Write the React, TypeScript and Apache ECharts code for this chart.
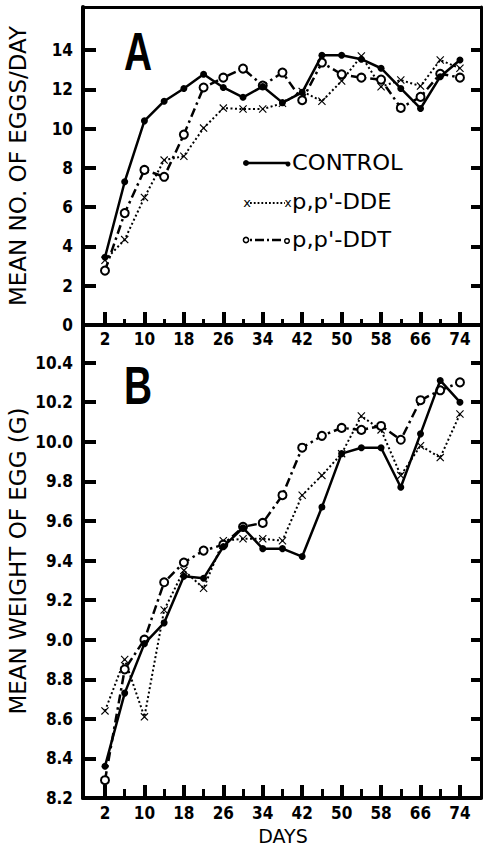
import React, { useEffect, useRef } from "react";
import * as echarts from "echarts";

// ---- data ----
const days = [2, 6, 10, 14, 18, 22, 26, 30, 34, 38, 42, 46, 50, 54, 58, 62, 66, 70, 74];
const eggsControl = [3.45, 7.3, 10.4, 11.4, 12.05, 12.77, 12.1, 11.6, 12.15, 11.33, 11.85, 13.74, 13.74, 13.54, 13.08, 12.05, 11.03, 12.65, 13.5];
const eggsDDE = [3.3, 4.35, 6.5, 8.4, 8.6, 10.03, 11.05, 11.0, 11.0, 11.3, 11.9, 11.4, 12.43, 13.7, 12.14, 12.48, 12.17, 13.5, 13.08];
const eggsDDT = [2.77, 5.7, 7.9, 7.55, 9.7, 12.1, 12.6, 13.06, 12.2, 12.86, 11.45, 13.37, 12.77, 12.6, 12.5, 11.06, 11.62, 12.8, 12.6];
const weightControl = [8.36, 8.73, 8.98, 9.085, 9.32, 9.31, 9.47, 9.565, 9.46, 9.46, 9.42, 9.67, 9.94, 9.97, 9.97, 9.77, 10.04, 10.31, 10.2];
const weightDDE = [8.64, 8.9, 8.61, 9.15, 9.35, 9.26, 9.5, 9.51, 9.51, 9.5, 9.73, 9.83, 9.94, 10.13, 10.06, 9.83, 9.98, 9.92, 10.14];
const weightDDT = [8.29, 8.85, 9.0, 9.29, 9.39, 9.45, 9.48, 9.57, 9.59, 9.73, 9.97, 10.03, 10.07, 10.06, 10.08, 10.01, 10.21, 10.26, 10.3];

const dayMajorTicks = [2, 10, 18, 26, 34, 42, 50, 58, 66, 74];
const dayMinorTicks = [6, 14, 22, 30, 38, 46, 54, 62, 70];
const eggTickLabels = [0, 2, 4, 6, 8, 10, 12, 14];
const eggTicks = [2, 4, 6, 8, 10, 12, 14];
const weightTickLabels = [8.2, 8.4, 8.6, 8.8, 9.0, 9.2, 9.4, 9.6, 9.8, 10.0, 10.2, 10.4];
const weightTicks = [8.4, 8.6, 8.8, 9.0, 9.2, 9.4, 9.6, 9.8, 10.0, 10.2, 10.4];

const seriesNames = ["CONTROL", "p,p'-DDE", "p,p'-DDT"];

const X_MIN = -2.46;
const X_MAX = 78.27;
const TICK_FONT = "'DejaVu Sans Condensed', 'DejaVu Sans', sans-serif";
const TITLE_FONT = "'DejaVu Sans', sans-serif";
const X_SYMBOL = "path://M0,1 L1,0 L5,4 L9,0 L10,1 L6,5 L10,9 L9,10 L5,6 L1,10 L0,9 L4,5 Z";

const pair = (vals: number[]) => days.map((d, i) => [d, vals[i]]);

function buildOption() {
  const labelStyle = { color: "#000", fontSize: 17, lineHeight: 17, fontWeight: "bold" as const, fontFamily: TICK_FONT };

  const majorX = (grid: number, margin: number) => ({
    type: "value",
    gridIndex: grid,
    position: "bottom",
    offset: 0,
    min: X_MIN,
    max: X_MAX,
    splitLine: { show: false },
    axisLine: { show: true, onZero: false, lineStyle: { color: "#000", width: 4 } },
    axisTick: { show: true, inside: true, length: 13, lineStyle: { color: "#000", width: 4 }, customValues: dayMajorTicks },
    axisLabel: { show: true, margin, ...labelStyle, customValues: dayMajorTicks },
  });
  const minorX = (grid: number, len: number) => ({
    type: "value",
    gridIndex: grid,
    position: "bottom",
    offset: 0,
    min: X_MIN,
    max: X_MAX,
    splitLine: { show: false },
    axisLine: { show: false },
    axisTick: { show: true, inside: true, length: len, lineStyle: { color: "#000", width: 3 }, customValues: dayMinorTicks },
    axisLabel: { show: false },
  });
  const topX = (grid: number) => ({
    type: "value",
    gridIndex: grid,
    position: "top",
    offset: 0,
    min: X_MIN,
    max: X_MAX,
    splitLine: { show: false },
    axisLine: { show: true, onZero: false, lineStyle: { color: "#000", width: 3 } },
    axisTick: { show: false },
    axisLabel: { show: false },
  });

  const leftY = (grid: number, min: number, max: number, ticks: number[], labels: number[], fmt: (v: number) => string) => ({
    type: "value",
    gridIndex: grid,
    position: "left",
    offset: 0,
    min,
    max,
    splitLine: { show: false },
    axisLine: { show: true, onZero: false, lineStyle: { color: "#000", width: 4 } },
    axisTick: { show: true, inside: true, length: 13, lineStyle: { color: "#000", width: 4 }, customValues: ticks },
    axisLabel: { show: true, margin: 10, ...labelStyle, customValues: labels, formatter: fmt },
  });
  const rightY = (grid: number, min: number, max: number, ticks: number[]) => ({
    type: "value",
    gridIndex: grid,
    position: "right",
    offset: 0,
    min,
    max,
    splitLine: { show: false },
    axisLine: { show: true, onZero: false, lineStyle: { color: "#000", width: 3 } },
    axisTick: { show: true, inside: true, length: 10, lineStyle: { color: "#000", width: 4 }, customValues: ticks },
    axisLabel: { show: false },
  });

  const styles = [
    {
      lineStyle: { color: "#000", width: 2.5, type: "solid" },
      symbol: "circle",
      symbolSize: 7,
      itemStyle: { color: "#000", borderWidth: 0 },
      z: 5,
    },
    {
      lineStyle: { color: "#000", width: 2, type: [2, 2.5] },
      symbol: X_SYMBOL,
      symbolSize: 8,
      itemStyle: { color: "#000", borderWidth: 0 },
      z: 3,
    },
    {
      lineStyle: { color: "#000", width: 2.5, type: [9, 4, 2.5, 4] },
      symbol: "circle",
      symbolSize: 8,
      itemStyle: { color: "#fff", borderColor: "#000", borderWidth: 2 },
      z: 4,
    },
  ];

  const mk = (name: string, vals: number[], grid: number, idx: number) => ({
    type: "line",
    name,
    xAxisIndex: grid === 0 ? 0 : 3,
    yAxisIndex: grid === 0 ? 0 : 2,
    data: pair(vals),
    showSymbol: true,
    showAllSymbol: true,
    ...styles[idx],
  });

  const legendY = [163, 202, 240];
  const lx0 = 246;
  const lx1 = 287;

  return {
    animation: false,
    backgroundColor: "#fff",
    grid: [
      { left: 83, right: 3, top: 7, height: 318, containLabel: false, outerBoundsMode: "none" },
      { left: 83, right: 3, top: 325, bottom: 49, containLabel: false, outerBoundsMode: "none" },
    ],
    xAxis: [majorX(0, 5), minorX(0, 6), topX(0), majorX(1, 6), minorX(1, 9)],
    yAxis: [
      leftY(0, 0, 16.2, eggTicks, eggTickLabels, (v: number) => String(v)),
      rightY(0, 0, 16.2, eggTicks),
      leftY(1, 8.2, 10.59, weightTicks, weightTickLabels, (v: number) => v.toFixed(1)),
      rightY(1, 8.2, 10.59, weightTicks),
    ],
    series: [
      mk(seriesNames[2], eggsDDT, 0, 2),
      mk(seriesNames[1], eggsDDE, 0, 1),
      mk(seriesNames[0], eggsControl, 0, 0),
      mk(seriesNames[2], weightDDT, 1, 2),
      mk(seriesNames[1], weightDDE, 1, 1),
      mk(seriesNames[0], weightControl, 1, 0),
    ],
    graphic: [
      {
        type: "text",
        x: 18,
        y: 166,
        rotation: Math.PI / 2,
        style: { text: "MEAN NO. OF EGGS/DAY", font: `23px ${TITLE_FONT}`, fill: "#000", align: "center", verticalAlign: "middle" },
      },
      {
        type: "text",
        x: 18,
        y: 561,
        rotation: Math.PI / 2,
        style: { text: "MEAN WEIGHT OF EGG (G)", font: `23px ${TITLE_FONT}`, fill: "#000", align: "center", verticalAlign: "middle" },
      },
      {
        type: "text",
        x: 283,
        y: 836,
        style: { text: "DAYS", font: `19px ${TITLE_FONT}`, lineHeight: 19, fill: "#000", align: "center", verticalAlign: "middle" },
      },
      {
        type: "text",
        x: 138,
        y: 51,
        scaleX: 0.72,
        style: { text: "A", font: `900 54px 'Liberation Sans', sans-serif`, fill: "#000", align: "center", verticalAlign: "middle" },
      },
      {
        type: "text",
        x: 138,
        y: 385,
        scaleX: 0.72,
        style: { text: "B", font: `900 54px 'Liberation Sans', sans-serif`, fill: "#000", align: "center", verticalAlign: "middle" },
      },
      // legend: control
      { type: "line", shape: { x1: lx0, y1: legendY[0], x2: lx1, y2: legendY[0] }, style: { stroke: "#000", lineWidth: 2.5 } },
      { type: "circle", shape: { cx: lx0, cy: legendY[0], r: 3 }, style: { fill: "#000" } },
      { type: "circle", shape: { cx: lx1 + 1, cy: legendY[0] + 1, r: 2.5 }, style: { fill: "#000" } },
      // legend: DDE
      { type: "line", shape: { x1: lx0 + 4, y1: legendY[1] + 1, x2: lx1 - 2, y2: legendY[1] + 1 }, style: { stroke: "#000", lineWidth: 1.8, lineDash: [1.8, 2] } },
      { type: "text", x: lx0 + 1, y: legendY[1], style: { text: "x", font: `13px ${TITLE_FONT}`, fill: "#000", align: "center", verticalAlign: "middle" } },
      { type: "text", x: lx1 + 1, y: legendY[1] + 1, style: { text: "x", font: `12px ${TITLE_FONT}`, fill: "#000", align: "center", verticalAlign: "middle" } },
      // legend: DDT
      { type: "line", shape: { x1: lx0 + 4, y1: legendY[2], x2: lx1 - 3, y2: legendY[2] }, style: { stroke: "#000", lineWidth: 2.5, lineDash: [2, 3, 9, 3] } },
      { type: "circle", shape: { cx: lx0, cy: legendY[2], r: 2.6 }, style: { fill: "#fff", stroke: "#000", lineWidth: 1.5 } },
      { type: "circle", shape: { cx: lx1, cy: legendY[2] + 1, r: 2.3 }, style: { fill: "#fff", stroke: "#000", lineWidth: 1.5 } },
      ...seriesNames.map((n, i) => ({
        type: "text",
        x: 292,
        y: legendY[i],
        scaleX: 1.08,
        style: { text: n, font: `21px ${TITLE_FONT}`, fill: "#000", align: "left", verticalAlign: "middle" },
      })),
    ],
  };
}

export default function App() {
  const ref = useRef<HTMLDivElement>(null);
  useEffect(() => {
    if (!ref.current) return;
    const chart = echarts.init(ref.current, undefined, { renderer: "svg" });
    chart.setOption(buildOption() as any);
    return () => chart.dispose();
  }, []);
  return <div ref={ref} style={{ position: "absolute", left: 0, top: 0, width: 484, height: 847, background: "#fff" }} />;
}
